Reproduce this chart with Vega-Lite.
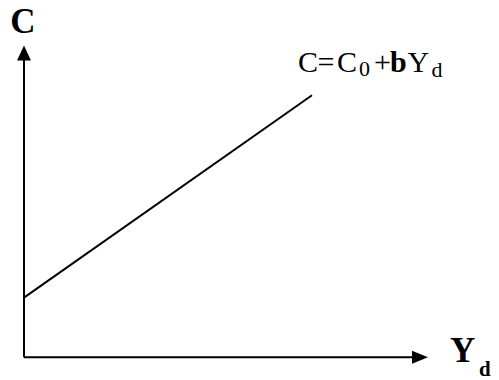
{
  "$schema": "https://vega.github.io/schema/vega-lite/v6.json",
  "width": 499,
  "height": 380,
  "autosize": {"type": "fit", "contains": "padding"},
  "padding": 0,
  "background": "white",
  "config": {"view": {"stroke": null}},
  "datasets": {
    "segments": [
      {"seg": "yaxis", "ord": 0, "u": 0, "v": 0},
      {"seg": "yaxis", "ord": 1, "u": 0, "v": 60},
      {"seg": "xaxis", "ord": 0, "u": 0, "v": 0},
      {"seg": "xaxis", "ord": 1, "u": 78, "v": 0},
      {"seg": "consumption", "ord": 0, "u": 0, "v": 12},
      {"seg": "consumption", "ord": 1, "u": 57.6, "v": 52.8}
    ],
    "arrowUp": [{"u": 0, "v": 61.3}],
    "arrowRight": [{"u": 79.2, "v": 0}],
    "axisC": [{"t": "C", "u": -0.2, "v": 65.4}],
    "axisY": [{"t": "Y", "u": 85.2, "v": -1}],
    "axisD": [{"t": "d", "u": 91, "v": -3.8}],
    "eqRegular": [
      {"t": "C", "u": 54.8, "v": 57.4},
      {"t": "=", "u": 58.7, "v": 57.4},
      {"t": "C", "u": 62.6, "v": 57.4},
      {"t": "+", "u": 70.0, "v": 57.4},
      {"t": "Y", "u": 76.7, "v": 57.4}
    ],
    "eqBold": [{"t": "b", "u": 73.2, "v": 57.4}],
    "eqSub": [
      {"t": "0", "u": 67.0, "v": 56.6},
      {"t": "d", "u": 81.5, "v": 56.4}
    ]
  },
  "encoding": {
    "x": {"field": "u", "type": "quantitative", "scale": {"domain": [-4.8, 95], "nice": false, "zero": false}, "axis": null},
    "y": {"field": "v", "type": "quantitative", "scale": {"domain": [-4, 72], "nice": false, "zero": false}, "axis": null}
  },
  "layer": [
    {
      "data": {"name": "segments"},
      "mark": {"type": "line", "color": "black", "strokeWidth": 2},
      "encoding": {
        "detail": {"field": "seg"},
        "order": {"field": "ord"}
      }
    },
    {
      "data": {"name": "arrowUp"},
      "mark": {"type": "point", "filled": true, "color": "black", "opacity": 1, "shape": "M0,-1L0.93,1L-0.93,1Z", "size": 225}
    },
    {
      "data": {"name": "arrowRight"},
      "mark": {"type": "point", "filled": true, "color": "black", "opacity": 1, "shape": "M1,0L-1,-0.81L-1,0.81Z", "size": 256}
    },
    {
      "data": {"name": "axisC"},
      "mark": {"type": "text", "font": "Liberation Serif", "fontWeight": "bold", "fontSize": 35, "align": "center", "baseline": "alphabetic", "color": "black"},
      "encoding": {"text": {"field": "t"}}
    },
    {
      "data": {"name": "axisY"},
      "mark": {"type": "text", "font": "Liberation Serif", "fontWeight": "bold", "fontSize": 35, "align": "left", "baseline": "alphabetic", "color": "black"},
      "encoding": {"text": {"field": "t"}}
    },
    {
      "data": {"name": "axisD"},
      "mark": {"type": "text", "font": "Liberation Serif", "fontWeight": "bold", "fontSize": 21, "align": "left", "baseline": "alphabetic", "color": "black"},
      "encoding": {"text": {"field": "t"}}
    },
    {
      "data": {"name": "eqRegular"},
      "mark": {"type": "text", "font": "Liberation Serif", "fontSize": 30, "align": "left", "baseline": "alphabetic", "color": "black"},
      "encoding": {"text": {"field": "t"}}
    },
    {
      "data": {"name": "eqBold"},
      "mark": {"type": "text", "font": "Liberation Serif", "fontWeight": "bold", "fontSize": 30, "align": "left", "baseline": "alphabetic", "color": "black"},
      "encoding": {"text": {"field": "t"}}
    },
    {
      "data": {"name": "eqSub"},
      "mark": {"type": "text", "font": "Liberation Serif", "fontSize": 22, "align": "left", "baseline": "alphabetic", "color": "black"},
      "encoding": {"text": {"field": "t"}}
    }
  ]
}
